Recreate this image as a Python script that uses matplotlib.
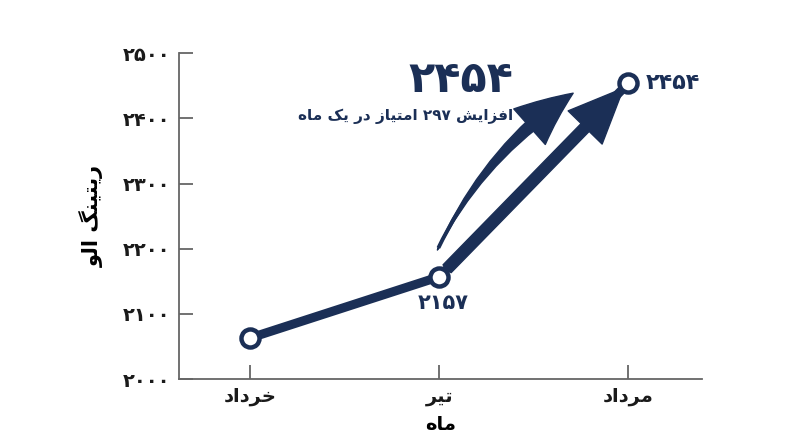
import re
import matplotlib
matplotlib.use("Agg")
import matplotlib.pyplot as plt
from matplotlib.patches import FancyArrowPatch

# data
months = ["خرداد", "تیر", "مرداد"]
ratings = [2063, 2157, 2454]
yticks = [2000, 2100, 2200, 2300, 2400, 2500]
ytick_labels = ["۲۰۰۰", "۲۱۰۰", "۲۲۰۰", "۲۳۰۰", "۲۴۰۰", "۲۵۰۰"]
point_labels = ["", "۲۱۵۷", "۲۴۵۴"]
x_title = "ماه"
y_title = "ریتینگ الو"
big_number = "۲۴۵۴"
gain_text = "افزایش ۲۹۷ امتیاز در یک ماه"

NAVY = "#1b2f56"

# minimal arabic shaping (isolated, final, initial, medial)
FORMS = {
    "ا": ("\uFE8D", "\uFE8E", None, None),
    "ت": ("\uFE95", "\uFE96", "\uFE97", "\uFE98"),
    "خ": ("\uFEA5", "\uFEA6", "\uFEA7", "\uFEA8"),
    "د": ("\uFEA9", "\uFEAA", None, None),
    "ر": ("\uFEAD", "\uFEAE", None, None),
    "ز": ("\uFEAF", "\uFEB0", None, None),
    "ش": ("\uFEB5", "\uFEB6", "\uFEB7", "\uFEB8"),
    "ف": ("\uFED1", "\uFED2", "\uFED3", "\uFED4"),
    "ل": ("\uFEDD", "\uFEDE", "\uFEDF", "\uFEE0"),
    "م": ("\uFEE1", "\uFEE2", "\uFEE3", "\uFEE4"),
    "ن": ("\uFEE5", "\uFEE6", "\uFEE7", "\uFEE8"),
    "ه": ("\uFEE9", "\uFEEA", "\uFEEB", "\uFEEC"),
    "و": ("\uFEED", "\uFEEE", None, None),
    "ی": ("\uFBFC", "\uFBFD", "\uFBFE", "\uFBFF"),
    "ک": ("\uFB8E", "\uFB8F", "\uFB90", "\uFB91"),
    "گ": ("\uFB92", "\uFB93", "\uFB94", "\uFB95"),
}


def fa(s):
    out = []
    for i, c in enumerate(s):
        if c not in FORMS:
            out.append(c)
            continue
        iso, fin, ini, med = FORMS[c]
        prev = s[i - 1] if i > 0 else ""
        nxt = s[i + 1] if i + 1 < len(s) else ""
        jp = prev in FORMS and FORMS[prev][2] is not None
        jn = nxt in FORMS and ini is not None
        if jp and jn:
            out.append(med)
        elif jp:
            out.append(fin)
        elif jn:
            out.append(ini)
        else:
            out.append(iso)
    vis = "".join(out)[::-1]
    return re.sub(r"[0-9\u06F0-\u06F9]+", lambda m: m.group(0)[::-1], vis)


plt.rcParams["font.family"] = ["DejaVu Sans"]

fig = plt.figure(figsize=(8, 4.47), dpi=100)
ax = fig.add_axes([0.22375, 0.152, 0.654, 0.729])

x = list(range(len(months)))
ax.plot(x, ratings, color=NAVY, lw=6.5, solid_capstyle="round", zorder=3)

# arrow head on the last segment
head = FancyArrowPatch((x[1], ratings[1]), (x[2], ratings[2]),
                       arrowstyle="simple,head_length=2.2,head_width=1.9,tail_width=0.45",
                       mutation_scale=18, color=NAVY, shrinkA=8, shrinkB=5,
                       zorder=3, clip_on=False)
ax.add_patch(head)

ax.plot(x, ratings, "o", ms=13, mfc="white", mec=NAVY, mew=3.2, zorder=5,
        clip_on=False)

# curved arrow: thin shaft with head + tapered wedge
c_start = (0.99, 2198)
c_end = (1.72, 2441)
curve = FancyArrowPatch(c_start, c_end,
                        connectionstyle="arc3,rad=-0.14",
                        arrowstyle="simple,head_length=2.2,head_width=1.9,tail_width=0.1",
                        mutation_scale=18, color=NAVY, zorder=3, clip_on=False)
ax.add_patch(curve)
taper = FancyArrowPatch(c_end, c_start,
                        connectionstyle="arc3,rad=0.14",
                        arrowstyle="wedge,tail_width=0.55,shrink_factor=0.5",
                        mutation_scale=18, color=NAVY, shrinkA=22, shrinkB=0,
                        zorder=3, clip_on=False)
ax.add_patch(taper)

# point labels
ax.text(x[1] + 0.02, ratings[1] - 40, fa(point_labels[1]), color=NAVY,
        fontsize=15, fontweight="bold", ha="center", va="center")
ax.text(x[2] + 0.09, ratings[2], fa(point_labels[2]), color=NAVY,
        fontsize=16, fontweight="bold", ha="left", va="center")

ax.text(1.39, 2459, fa(big_number), color=NAVY, fontsize=31,
        fontweight="bold", ha="right", va="center")
ax.text(1.39, 2403, fa(gain_text), color=NAVY, fontsize=11,
        fontweight="bold", ha="right", va="center")

ax.set_xlim(-0.376, 2.39)
ax.set_ylim(2000, 2500)
ax.set_xticks(x)
ax.set_xticklabels([fa(m) for m in months], fontsize=14, fontweight="bold")
ax.set_yticks(yticks)
ax.set_yticklabels([fa(t) for t in ytick_labels], fontsize=14,
                   fontweight="bold")
ax.tick_params(axis="y", pad=6)
ax.tick_params(axis="x", pad=6)
ax.set_xlabel(fa(x_title), fontsize=14, fontweight="bold", labelpad=6)
ax.set_ylabel(fa(y_title), fontsize=15, fontweight="bold", labelpad=14)

for side in ["top", "right"]:
    ax.spines[side].set_visible(False)
for side in ["left", "bottom"]:
    ax.spines[side].set_color("#666666")
    ax.spines[side].set_linewidth(1.3)
ax.tick_params(direction="in", length=10, width=1.3, color="#666666",
               labelcolor="#1a1a1a")

fig.savefig("out.png", dpi=100)
